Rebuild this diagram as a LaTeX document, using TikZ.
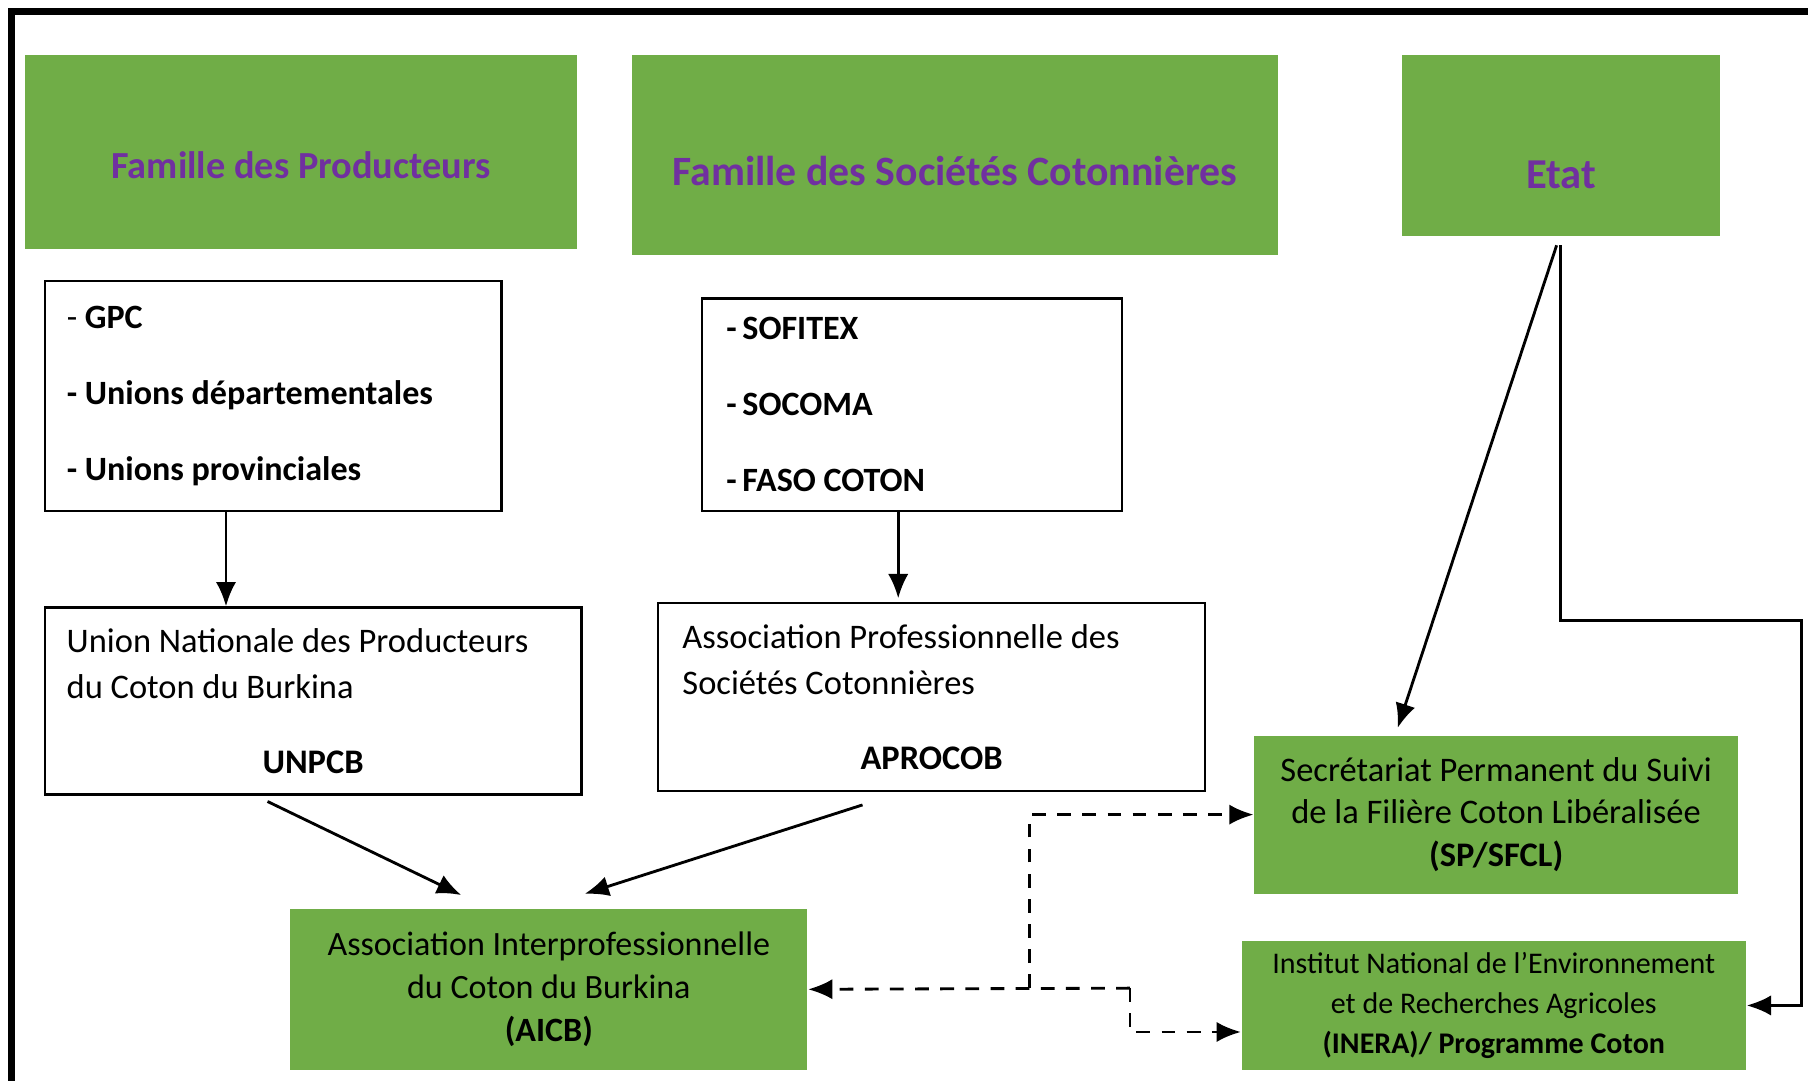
\documentclass[tikz,border=0pt]{standalone}
\usepackage{fontspec}
\setmainfont{Carlito}[WordSpace={1,0,1}]
\usetikzlibrary{positioning,calc,arrows.meta}
\definecolor{hgreen}{HTML}{70AD47}
\definecolor{hpurple}{HTML}{7030A0}
\tikzset{every node/.style={execute at begin node={\spaceskip=0pt\xspaceskip=0pt}},
         headbox/.style={fill=hgreen,text=hpurple,text height=15pt,text depth=0pt},
         listbox/.style={draw,line width=0.6pt,align=left,font=\fontsize{8.4}{18.7}\selectfont\bfseries},
         orgbox/.style={draw,line width=0.6pt,align=left,font=\fontsize{8.5}{11.3}\selectfont},
         gbox/.style={fill=hgreen,align=center,inner sep=0pt},
         line/.style={-{Latex[length=6pt,width=5pt]},line width=0.7pt},
         dline/.style={line,dash pattern=on 3.4pt off 2.8pt}
}
\begin{document}
\begin{tikzpicture}[x=0.01cm,y=-0.01cm]
  \useasboundingbox (0,0) rectangle (1568,937.5);
  \draw[line width=1.5pt] (10,937.5) -- (10,10) -- (1568,10);
  % familles
  \node[headbox,minimum width=4.78cm,minimum height=1.68cm,text height=13pt,font=\fontsize{9.45}{11}\selectfont\bfseries] (prod) at (261,132) {Famille des Producteurs};
  \node[headbox,minimum width=5.60cm,minimum height=1.73cm,font=\fontsize{10.3}{12}\selectfont\bfseries] (soc) at (828,134.5) {Famille des Sociétés Cotonnières};
  \node[headbox,minimum width=2.76cm,minimum height=1.57cm,text height=21pt,font=\fontsize{10.5}{12}\selectfont\bfseries] (etat) at (1354,126.5) {Etat};
  % membres
  \node[listbox,inner xsep=0.19cm,text width=3.58cm,minimum height=1.99cm] (gpc) at (237,343.5) {{\mdseries -} GPC\\- Unions départementales\\- Unions provinciales};
  \node[listbox,inner xsep=0.21cm,text width=3.22cm,minimum height=1.84cm] (sofi) at (791,351) {-\,SOFITEX\\-\,SOCOMA\\-\,FASO COTON};
  \node[orgbox,inner xsep=0.19cm,text width=4.27cm,minimum height=1.62cm] (unpcb) at (271.5,608) {Union Nationale des Producteurs\\du Coton du Burkina\\[0.25cm]\makebox[4.27cm]{\textbf{UNPCB}}};
  \node[orgbox,inner xsep=0.21cm,text width=4.32cm,minimum height=1.63cm] (aprocob) at (808,604.5) {Association Professionnelle des\\Sociétés Cotonnières\\[0.25cm]\makebox[4.32cm]{\textbf{APROCOB}}};
  % interprofession et Etat
  \node[gbox,text width=4.48cm,minimum height=1.40cm,font=\fontsize{8.4}{10.5}\selectfont] (aicb) at (476,858) {Association Interprofessionnelle\\du Coton du Burkina\\\textbf{(AICB)}};
  \node[gbox,text width=4.19cm,minimum height=1.37cm,font=\fontsize{8.5}{10.5}\selectfont] (sp) at (1297.5,706.5) {Secrétariat Permanent du Suivi\\de la Filière Coton Libéralisée\\\textbf{(SP/SFCL)}};
  \node[gbox,text width=4.37cm,minimum height=1.12cm,font=\fontsize{7.4}{9.9}\selectfont] (inera) at (1295.5,872) {Institut National de l’Environnement\\et de Recherches Agricoles\\\textbf{(INERA)/ Programme Coton}};
  \draw[line] ($(gpc.south)+(-41,0)$) -- ($(unpcb.north)+(-75.5,0)$);
  \draw[line] ($(sofi.south)+(-12,0)$) -- ($(aprocob.north)+(-29,-3)$);
  \draw[line] ($(unpcb.south)+(-39.5,5)$) -- ($(aicb.north)+(-76,-11)$);
  \draw[line] ($(aprocob.south)+(-60,11)$) -- ($(aicb.north)+(31,-12)$);
  \draw[line] ($(etat.south)+(-4,7)$) -- ($(sp.north west)+(125,-6)$);
  \coordinate (k) at (1562,538);
  \draw[line] ($(etat.south)+(-1,7)$) |- (k) |- (inera.east);
  \coordinate (d1) at (893,857);
  \coordinate (d2) at (980,857);
  \draw[dline] (d2) -- (aicb.east);
  \draw[dline] (d1) |- (sp.west);
  \draw[dline] (d2) |- ($(inera.west)+(0,23)$);
\end{tikzpicture}
\end{document}
